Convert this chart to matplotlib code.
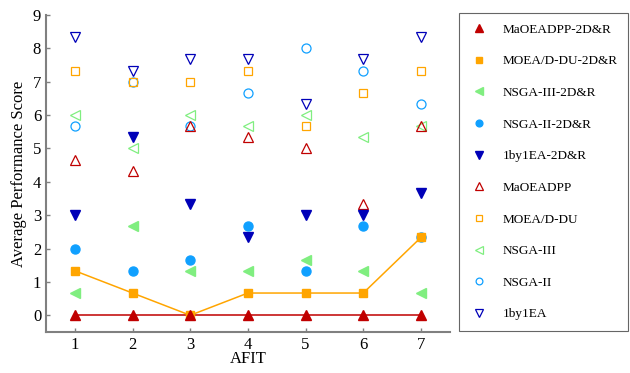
import matplotlib
matplotlib.use('Agg')
import matplotlib.pyplot as plt
from matplotlib.lines import Line2D

plt.rcParams['font.family'] = ['Liberation Serif', 'DejaVu Serif']

afit = [1, 2, 3, 4, 5, 6, 7]

# 各算法得分
maoeadpp_2dr = [0, 0, 0, 0, 0, 0, 0]
moead_du_2dr = [4/3, 2/3, 0, 2/3, 2/3, 2/3, 7/3]
nsga3_2dr = [2/3, 8/3, 4/3, 4/3, 5/3, 4/3, 2/3]
nsga2_2dr = [2, 4/3, 5/3, 8/3, 4/3, 8/3, 7/3]
by1ea_2dr = [3, 16/3, 10/3, 7/3, 3, 3, 11/3]
maoeadpp = [14/3, 13/3, 17/3, 16/3, 5, 10/3, 17/3]
moead_du = [22/3, 7, 7, 22/3, 17/3, 20/3, 22/3]
nsga3 = [6, 5, 6, 17/3, 6, 16/3, 17/3]
nsga2 = [17/3, 7, 17/3, 20/3, 8, 22/3, 19/3]
by1ea = [25/3, 22/3, 23/3, 23/3, 19/3, 23/3, 25/3]

red = '#c00000'
orange = '#ffa500'
green = '#80ee80'
blue = '#10a0ff'
navy = '#0000b8'

series = [
    ('MaOEADPP-2D&R', maoeadpp_2dr, '^', red, True),
    ('MOEA/D-DU-2D&R', moead_du_2dr, 's', orange, True),
    ('NSGA-III-2D&R', nsga3_2dr, '<', green, True),
    ('NSGA-II-2D&R', nsga2_2dr, 'o', blue, True),
    ('1by1EA-2D&R', by1ea_2dr, 'v', navy, True),
    ('MaOEADPP', maoeadpp, '^', red, False),
    ('MOEA/D-DU', moead_du, 's', orange, False),
    ('NSGA-III', nsga3, '<', green, False),
    ('NSGA-II', nsga2, 'o', blue, False),
    ('1by1EA', by1ea, 'v', navy, False),
]
sizes = {'^': 7.5, 's': 6, '<': 7.5, 'o': 6.5, 'v': 7.5}

fig = plt.figure(figsize=(6.3, 3.73), dpi=100)
ax = fig.add_axes([0.073, 0.110, 0.641, 0.850])

# 两条折线
ax.plot(afit, maoeadpp_2dr, color=red, lw=1.1, zorder=2)
ax.plot(afit, moead_du_2dr, color=orange, lw=1.1, zorder=2)

handles = []
for i, (name, vals, mk, col, filled) in enumerate(series):
    ms = sizes[mk]
    if filled:
        ax.plot(afit, vals, linestyle='none', marker=mk, ms=ms, color=col, zorder=20 - i)
        h = Line2D([], [], linestyle='none', marker=mk, ms=ms * 0.75, color=col)
    else:
        ax.plot(afit, vals, linestyle='none', marker=mk, ms=ms, mfc='none', mec=col,
                mew=0.9, zorder=20 - i)
        h = Line2D([], [], linestyle='none', marker=mk, ms=ms * 0.75, mfc='none', mec=col, mew=0.9)
    handles.append(h)

ax.set_xlim(0.5, 7.5)
ax.set_ylim(-0.5, 9)
ax.set_xticks(afit)
ax.set_yticks(range(0, 10))
ax.set_xlabel('AFIT', fontsize=12, labelpad=-1)
ax.set_ylabel('Average Performance Score', fontsize=12, labelpad=4)
ax.tick_params(direction='in', length=3, width=1, color='#808080', labelsize=12)

for s in ['top', 'right']:
    ax.spines[s].set_visible(False)
for s in ['left', 'bottom']:
    ax.spines[s].set_color('#808080')
    ax.spines[s].set_linewidth(1.5)

leg = fig.legend(handles, [s[0] for s in series], loc='upper left',
                 bbox_to_anchor=(459 / 630, 360 / 373), fontsize=9.5,
                 labelspacing=1.47, handlelength=1.5, handletextpad=1.0,
                 borderpad=0.8, borderaxespad=0, fancybox=False, edgecolor='#404040')
leg.get_frame().set_linewidth(0.8)

plt.savefig('out.png', dpi=100)
